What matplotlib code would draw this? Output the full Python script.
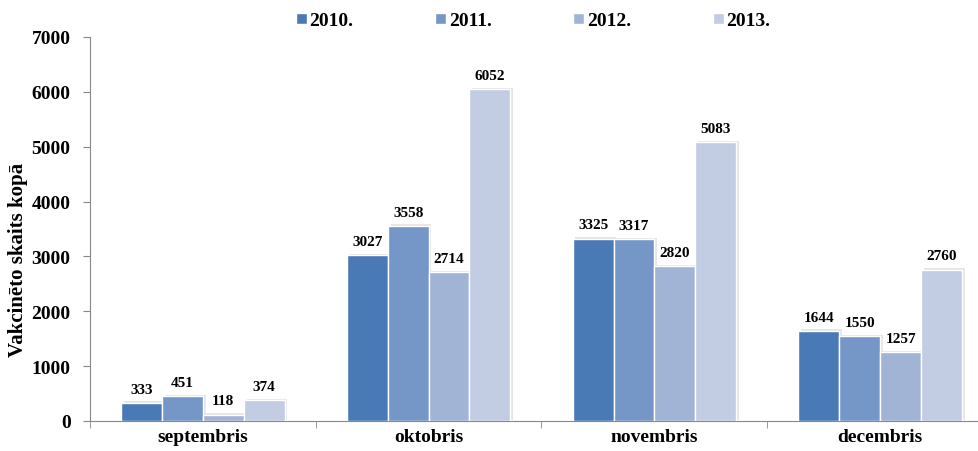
import numpy as np
import matplotlib
matplotlib.use('Agg')
import matplotlib.pyplot as plt
import matplotlib.patheffects as pe
from matplotlib.patches import Rectangle

months = ['septembris', 'oktobris', 'novembris', 'decembris']
years = ['2010.', '2011.', '2012.', '2013.']
v2010 = [333, 3027, 3325, 1644]
v2011 = [451, 3558, 3317, 1550]
v2012 = [118, 2714, 2820, 1257]
v2013 = [374, 6052, 5083, 2760]
colors = ['#4a7ab5', '#7597c8', '#a2b4d6', '#c2cde3']

plt.rcParams['font.family'] = ['Liberation Serif', 'DejaVu Serif']
plt.rcParams['font.weight'] = 'bold'

W, H = 979, 452
fig = plt.figure(figsize=(W / 100, H / 100), dpi=100)
# axes runs a bit past the right edge, like the original
ax = fig.add_axes([90 / W, 1 - 422 / H, 903 / W, 384 / H])

x = np.arange(len(months))
w = 0.181
series = [v2010, v2011, v2012, v2013]
shadow = [pe.SimplePatchShadow(offset=(2, 1), shadow_rgbFace='#999999', alpha=0.25), pe.Normal()]
for i, vals in enumerate(series):
    pos = x + (i - 1.5) * w
    bars = ax.bar(pos, vals, width=w, color=colors[i], edgecolor='white', linewidth=1, zorder=3)
    for b in bars:
        b.set_path_effects(shadow)
    for p, v in zip(pos, vals):
        ax.text(p, v + 130, str(v), ha='center', va='bottom', fontsize=11, fontweight='bold', zorder=4)

ax.set_xlim(-0.5, 3.5)
ax.set_ylim(0, 7000)
ax.set_yticks(range(0, 7001, 1000))
ax.set_xticks(x)
ax.set_xticklabels(months, fontsize=14, fontweight='bold')
ax.tick_params(axis='x', length=0, pad=5)
ax.set_xticks(np.arange(-0.5, 3.6, 1), minor=True)
ax.tick_params(axis='x', which='minor', length=5, color='#888888')
ax.tick_params(axis='y', labelsize=14, color='#888888', length=5, pad=9)
for t in ax.get_yticklabels():
    t.set_fontweight('bold')
ax.set_ylabel('Vakcinēto skaits kopā', fontsize=15, fontweight='bold')
ax.yaxis.set_label_coords((28 - 90) / 903, (422 - 260) / 384)

for s in ['top', 'right']:
    ax.spines[s].set_visible(False)
for s in ['left', 'bottom']:
    ax.spines[s].set_color('#888888')

handles = [Rectangle((0, 0), 1, 1, facecolor=c, edgecolor='white') for c in colors]
fig.legend(handles, years, loc='center left', bbox_to_anchor=(296 / W, 1 - 22 / H), ncol=4,
           frameon=False, borderpad=0, borderaxespad=0,
           handlelength=0.55, handleheight=0.55, handletextpad=0.15,
           columnspacing=4.2, prop={'weight': 'bold', 'size': 14})

fig.savefig('out.png', dpi=100)
